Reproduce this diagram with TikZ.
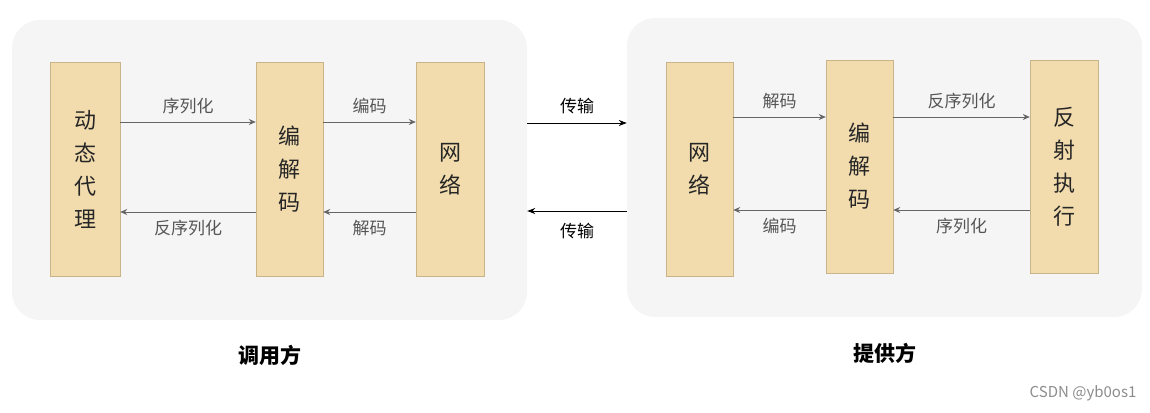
\documentclass[tikz,border=0pt]{standalone}
\usepackage{fontspec}
\usepackage{tikz}
\usetikzlibrary{arrows.meta,positioning}
\newfontfamily\cjk{Noto Sans CJK SC}
\definecolor{panelbg}{HTML}{F5F5F5}
\definecolor{boxfill}{HTML}{F2DCAE}
\definecolor{boxline}{HTML}{C9B48A}
\definecolor{arrgray}{HTML}{666666}
\definecolor{txtgray}{HTML}{555555}

\begin{document}
\begin{tikzpicture}[x=1pt,y=-1pt,
  panel/.style={fill=panelbg,rounded corners=28pt,draw=none},
  box/.style={draw=boxline,fill=boxfill,minimum width=68pt,minimum height=214pt,align=center,inner sep=0pt,font=\cjk\fontsize{22}{33}\selectfont,text=black!85},
  lbl/.style={font=\cjk\fontsize{17}{20}\selectfont,text=txtgray},
  arr/.style={-{Stealth[length=7pt,width=6pt]},arrgray,line width=1pt},
  barr/.style={-{Stealth[length=8pt,width=6pt]},black,line width=1pt}
]
\useasboundingbox (0,0) rectangle (1150,412);
% Panels
\node[panel,minimum width=515pt,minimum height=300pt] (lpanel) at (269.5,170) {};
\node[panel,minimum width=515pt,minimum height=299pt] (rpanel) at (884.5,167.5) {};

% Caller side
\node[box,minimum width=70pt] (proxy) at (85,169) {动\\态\\代\\理};
\node[box,minimum width=67pt] (lcodec) at (289.5,169) {编\\解\\码};
\node[box,minimum width=68pt] (lnet) at (450,169) {网\\络};

% Provider side
\node[box,minimum width=67pt] (rnet) at (699.5,169) {网\\络};
\node[box,minimum width=67pt,minimum height=213pt] (rcodec) at (859.5,166.5) {编\\解\\码};
\node[box,minimum width=68pt,minimum height=213pt] (reflect) at (1064,166.5) {反\\射\\执\\行};

% Caller arrows
\draw[arr] (proxy.east|-0,122) -- node[lbl,above=4pt] {序列化} (lcodec.west|-0,122);
\draw[arr] (lcodec.east|-0,122) -- node[lbl,above=4pt] {编码} (lnet.west|-0,122);
\draw[arr] (lcodec.west|-0,212) -- node[lbl,below=4pt] {反序列化} (proxy.east|-0,212);
\draw[arr] (lnet.west|-0,212) -- node[lbl,below=4pt] {解码} (lcodec.east|-0,212);

% Transport
\draw[barr] (lpanel.east|-0,123) -- node[lbl,above=5pt,text=black] {传输} (rpanel.west|-0,123);
\draw[barr] (rpanel.west|-0,211) -- node[lbl,below=8pt,text=black] {传输} (lpanel.east|-0,211);

% Provider arrows
\draw[arr] (rnet.east|-0,117) -- node[lbl,above=4pt] {解码} (rcodec.west|-0,117);
\draw[arr] (rcodec.east|-0,117) -- node[lbl,above=4pt] {反序列化} (reflect.west|-0,117);
\draw[arr] (rcodec.west|-0,210) -- node[lbl,below=4pt] {编码} (rnet.east|-0,210);
\draw[arr] (reflect.west|-0,210) -- node[lbl,below=4pt] {序列化} (rcodec.east|-0,210);

% Captions
\node[font=\cjk\bfseries\fontsize{21}{24}\selectfont] (caller) at (270,355) {调用方};
\node[font=\cjk\bfseries\fontsize{21}{24}\selectfont] (provider) at (885,353) {提供方};
\node[font=\cjk\fontsize{15}{17}\selectfont,text=black!45] (mark) at (1083,393) {CSDN @yb0os1};
\end{tikzpicture}
\end{document}
